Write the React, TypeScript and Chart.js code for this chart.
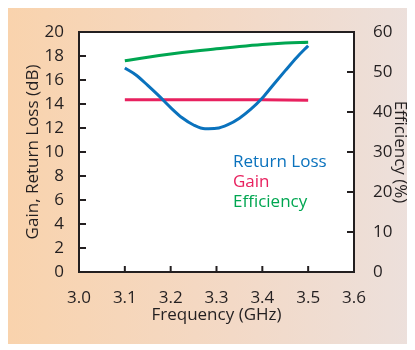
import React, { useEffect, useRef } from "react";
import { Chart, registerables } from "chart.js";

Chart.register(...registerables);

// ---- data ----
const xTicks = [3.0, 3.1, 3.2, 3.3, 3.4, 3.5, 3.6];
const rlFreq = [3.1, 3.125, 3.15, 3.175, 3.2, 3.225, 3.25, 3.275, 3.3, 3.325, 3.35, 3.375, 3.4, 3.425, 3.45, 3.475, 3.5];
const returnLoss = [17.0, 16.4, 15.55, 14.65, 13.7, 12.85, 12.25, 11.93, 11.97, 12.28, 12.82, 13.57, 14.5, 15.65, 16.78, 17.88, 18.86];
const gainFreq = [3.1, 3.2, 3.3, 3.4, 3.5];
const gain = [14.36, 14.36, 14.36, 14.36, 14.32];
const effFreq = [3.1, 3.15, 3.2, 3.25, 3.3, 3.35, 3.4, 3.45, 3.5];
const efficiency = [52.8, 53.7, 54.5, 55.2, 55.8, 56.4, 56.9, 57.25, 57.45];
const seriesNames = ["Return Loss", "Gain", "Efficiency"];
const seriesColors = ["#0a72bd", "#e8215f", "#00a651"];

const FONT = "'Open Sans', sans-serif";
const TEXT = "#231f20";

const framePlugin = {
  id: "frame",
  beforeDraw(chart: any) {
    const { ctx, chartArea: a } = chart;
    ctx.save();
    ctx.fillStyle = "#ffffff";
    ctx.fillRect(a.left, a.top, a.right - a.left, a.bottom - a.top);
    ctx.restore();
  },
  afterDraw(chart: any) {
    const { ctx, chartArea: a, scales } = chart;
    ctx.save();
    ctx.strokeStyle = TEXT;
    ctx.lineWidth = 2;
    scales.x.ticks.forEach((t: any) => {
      const p = scales.x.getPixelForValue(t.value);
      ctx.beginPath();
      ctx.moveTo(p, a.bottom);
      ctx.lineTo(p, a.bottom - 6);
      ctx.stroke();
    });
    scales.y.ticks.forEach((t: any) => {
      const p = scales.y.getPixelForValue(t.value);
      ctx.beginPath();
      ctx.moveTo(a.left, p);
      ctx.lineTo(a.left + 7, p);
      ctx.stroke();
    });
    scales.y1.ticks.forEach((t: any) => {
      const p = scales.y1.getPixelForValue(t.value);
      ctx.beginPath();
      ctx.moveTo(a.right, p);
      ctx.lineTo(a.right - 7, p);
      ctx.stroke();
    });
    ctx.strokeRect(a.left, a.top, a.right - a.left, a.bottom - a.top);
    // text legend
    ctx.font = `17px ${FONT}`;
    ctx.textAlign = "left";
    ctx.textBaseline = "alphabetic";
    seriesNames.forEach((name, i) => {
      ctx.fillStyle = seriesColors[i];
      ctx.fillText(name, a.left + 154, a.top + 135 + i * 20);
    });
    ctx.restore();
  },
};

export default function App() {
  const ref = useRef<HTMLCanvasElement | null>(null);

  useEffect(() => {
    if (!ref.current) return;
    const tickFont = { family: FONT, size: 17 };
    const titleFont = { family: FONT, size: 17 };
    const chart = new Chart(ref.current, {
      type: "line",
      data: {
        datasets: [
          {
            label: seriesNames[0],
            data: rlFreq.map((f, i) => ({ x: f, y: returnLoss[i] })),
            borderColor: seriesColors[0],
            borderWidth: 3,
            pointRadius: 0,
            cubicInterpolationMode: "monotone",
            yAxisID: "y",
          },
          {
            label: seriesNames[1],
            data: gainFreq.map((f, i) => ({ x: f, y: gain[i] })),
            borderColor: seriesColors[1],
            borderWidth: 3,
            pointRadius: 0,
            tension: 0.4,
            yAxisID: "y",
          },
          {
            label: seriesNames[2],
            data: effFreq.map((f, i) => ({ x: f, y: efficiency[i] })),
            borderColor: seriesColors[2],
            borderWidth: 3,
            pointRadius: 0,
            tension: 0.4,
            yAxisID: "y1",
          },
        ],
      },
      options: {
        responsive: false,
        animation: false,
        layout: { padding: { top: 26, left: 0, right: 0, bottom: 0 } },
        plugins: { legend: { display: false }, tooltip: { enabled: false } },
        scales: {
          x: {
            type: "linear",
            position: "bottom",
            min: 3.0,
            max: 3.6,
            afterBuildTicks: (s: any) => {
              s.ticks = xTicks.map((v) => ({ value: v }));
            },
            ticks: {
              font: tickFont,
              color: TEXT,
              padding: 8,
              maxRotation: 0,
              autoSkip: false,
              callback: (v: any) => Number(v).toFixed(1),
            },
            grid: { display: false },
            border: { display: false },
            title: {
              display: true,
              text: "Frequency (GHz)",
              font: titleFont,
              color: TEXT,
              padding: { top: 0, bottom: 18.8 },
            },
            afterFit: (s: any) => {
              s.height = 72;
            },
          },
          y: {
            type: "linear",
            position: "left",
            min: 0,
            max: 20,
            ticks: { stepSize: 2, font: tickFont, color: TEXT, padding: 7 },
            grid: { display: false },
            border: { display: false },
            title: {
              display: true,
              text: "Gain, Return Loss (dB)",
              font: titleFont,
              color: TEXT,
              padding: { top: 15.1, bottom: 0 },
            },
            afterFit: (s: any) => {
              s.width = 71;
            },
          },
          y1: {
            type: "linear",
            position: "right",
            min: 0,
            max: 60,
            ticks: { stepSize: 10, font: tickFont, color: TEXT, padding: 11 },
            grid: { display: false },
            border: { display: false },
            title: {
              display: true,
              text: "Efficiency (%)",
              font: titleFont,
              color: TEXT,
              padding: { top: 4.8, bottom: 0 },
            },
            afterFit: (s: any) => {
              s.width = 61;
            },
          },
        },
      },
      plugins: [framePlugin],
    } as any);
    return () => chart.destroy();
  }, []);

  return (
    <div
      style={{
        width: 407,
        height: 338,
        marginTop: -2,
        background: "linear-gradient(to right, #f9d3ad 0%, #f3d9c6 55%, #ece0dc 100%)",
      }}
    >
      <canvas ref={ref} width={407} height={338} style={{ display: "block" }} />
    </div>
  );
}
